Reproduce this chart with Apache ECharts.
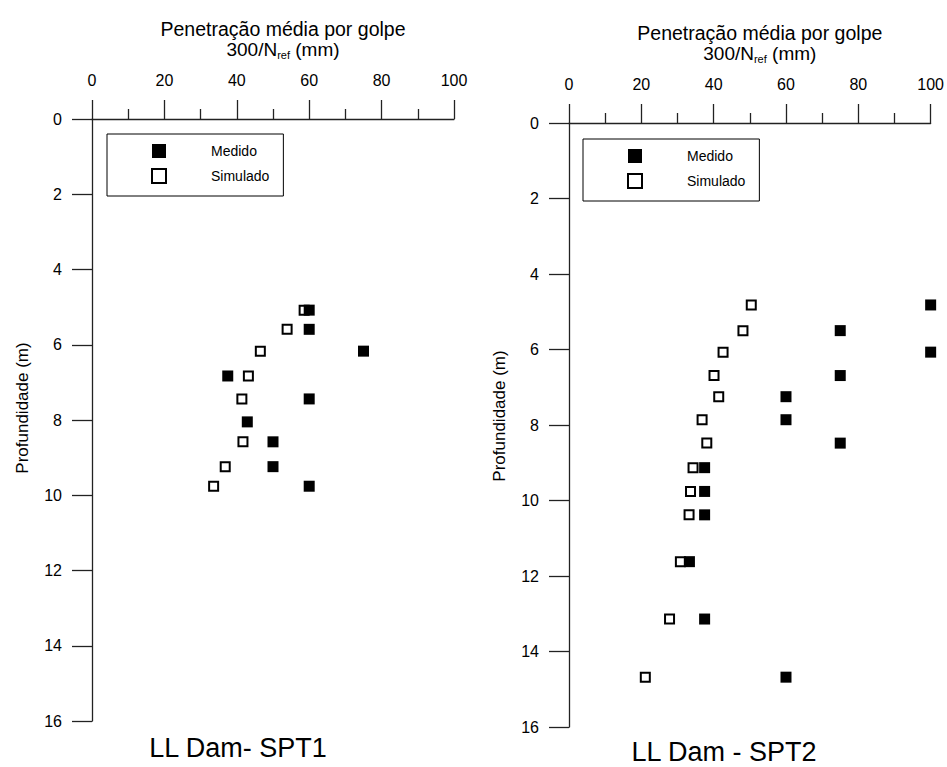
<!DOCTYPE html>
<html>
<head>
<meta charset="utf-8">
<script src="https://cdn.jsdelivr.net/npm/echarts@6/dist/echarts.min.js"></script>
<style>
  html, body { margin: 0; padding: 0; background: #fff; }
  #chart { width: 947px; height: 767px; }
</style>
</head>
<body>
<div id="chart"></div>
<script>
// SPT1 - profundidade (m) e penetração (mm)
var spt1Depth = [5.08, 5.59, 6.17, 6.83, 7.44, 8.05, 8.58, 9.24, 9.76];
var spt1Medido = [60, 60, 75, 37.5, 60, 42.9, 50, 50, 60];
var spt1SimDepth = [5.08, 5.59, 6.17, 6.83, 7.44, 8.58, 9.24, 9.76];
var spt1Simulado = [58.6, 53.9, 46.5, 43.2, 41.4, 41.7, 36.8, 33.6];

// SPT2
var spt2Depth = [4.82, 5.50, 6.07, 6.69, 7.25, 7.86, 8.48, 9.13, 9.76, 10.38, 11.62, 13.14, 14.68];
var spt2Medido = [100, 75, 100, 75, 60, 60, 75, 37.5, 37.5, 37.5, 33.3, 37.5, 60];
var spt2Simulado = [50.4, 48.1, 42.6, 40.1, 41.4, 36.8, 38.1, 34.3, 33.6, 33.2, 30.8, 27.8, 21.1];

var titles = ['LL Dam- SPT1', 'LL Dam - SPT2'];
var legendNames = ['Medido', 'Simulado'];

function pairs(xs, ys) {
  var out = [];
  for (var i = 0; i < xs.length; i++) out.push([xs[i], ys[i]]);
  return out;
}

var axisColor = '#222';
var font = 'Liberation Sans, Arial, sans-serif';

function xAxisFor(idx) {
  return {
    gridIndex: idx,
    type: 'value',
    position: 'top',
    min: 0, max: 100, interval: 20,
    name: '{a|Penetração média por golpe}\n{b|300/N}{c|ref}{b| (mm)}',
    nameLocation: 'middle',
    nameGap: 59,
    nameTextStyle: {
      padding: [0, 0, 0, 20],
      align: 'center',
      rich: {
        a: { fontSize: 19.5, fontFamily: font, color: '#000', lineHeight: 21, align: 'center' },
        b: { fontSize: 19, fontFamily: font, color: '#000', lineHeight: 21 },
        c: { fontSize: 11, fontFamily: font, color: '#000', lineHeight: 21, verticalAlign: 'bottom' }
      }
    },
    axisLine: { show: true, onZero: false, lineStyle: { color: axisColor, width: 1.3 } },
    axisTick: { show: true, inside: false, length: 19, lineStyle: { color: axisColor, width: 1.3 } },
    minorTick: { show: true, splitNumber: 2, length: 10, lineStyle: { color: axisColor, width: 1.3 } },
    axisLabel: { margin: 31, fontSize: 16, fontFamily: font, color: '#000' },
    splitLine: { show: false }
  };
}

function yAxisFor(idx, gap, pad) {
  return {
    gridIndex: idx,
    type: 'value',
    inverse: true,
    min: 0, max: 16, interval: 2,
    name: 'Profundidade (m)',
    nameLocation: 'middle',
    nameGap: gap,
    nameTextStyle: { fontSize: 17, fontFamily: font, color: '#000', padding: pad },
    axisLine: { show: true, onZero: false, lineStyle: { color: axisColor, width: 1.3 } },
    axisTick: { show: true, inside: false, length: 20, lineStyle: { color: axisColor, width: 1.3 } },
    axisLabel: { margin: 30, fontSize: 16, fontFamily: font, color: '#000' },
    splitLine: { show: false }
  };
}

var filledStyle = { color: '#000', opacity: 1 };
var openStyle = { color: '#fff', borderColor: '#000', borderWidth: 2, opacity: 1 };

function legendFor(left, top) {
  return {
    left: left, top: top,
    orient: 'vertical',
    data: legendNames,
    selectedMode: false,
    borderColor: '#000',
    borderWidth: 1,
    padding: [10, 14, 12, 44],
    itemGap: 10,
    itemWidth: 14,
    itemHeight: 14,
    textStyle: { fontSize: 14, fontFamily: font, color: '#000', padding: [0, 0, 0, 40], lineHeight: 14 }
  };
}

var chart = echarts.init(document.getElementById('chart'), null, { renderer: 'svg' });

chart.setOption({
  backgroundColor: '#fff',
  animation: false,
  grid: [
    { left: 92, top: 119, width: 362, height: 602 },
    { left: 569, top: 123, width: 363, height: 604 }
  ],
  xAxis: [xAxisFor(0), xAxisFor(1)],
  yAxis: [yAxisFor(0, 61, [0, 0, 0, 24]), yAxisFor(1, 61, [0, 0, 0, 18])],
  legend: [legendFor(107, 134), legendFor(583, 139)],
  title: [
    { text: titles[0], left: 238, top: 733, textAlign: 'center', padding: 0,
      textStyle: { fontSize: 27, fontWeight: 'normal', fontFamily: font, color: '#000', lineHeight: 30 } },
    { text: titles[1], left: 724, top: 737, textAlign: 'center', padding: 0,
      textStyle: { fontSize: 27, fontWeight: 'normal', fontFamily: font, color: '#000', lineHeight: 30 } }
  ],
  series: [
    { name: 'Simulado', type: 'scatter', xAxisIndex: 0, yAxisIndex: 0, symbol: 'rect', symbolSize: 9,
      itemStyle: openStyle, data: pairs(spt1Simulado, spt1SimDepth), z: 2 },
    { name: 'Medido', type: 'scatter', xAxisIndex: 0, yAxisIndex: 0, symbol: 'rect', symbolSize: 11,
      itemStyle: filledStyle, data: pairs(spt1Medido, spt1Depth), z: 3 },
    { name: 'Simulado', type: 'scatter', xAxisIndex: 1, yAxisIndex: 1, symbol: 'rect', symbolSize: 9,
      itemStyle: openStyle, data: pairs(spt2Simulado, spt2Depth), z: 2 },
    { name: 'Medido', type: 'scatter', xAxisIndex: 1, yAxisIndex: 1, symbol: 'rect', symbolSize: 11,
      itemStyle: filledStyle, data: pairs(spt2Medido, spt2Depth), z: 3 }
  ]
});
</script>
</body>
</html>
